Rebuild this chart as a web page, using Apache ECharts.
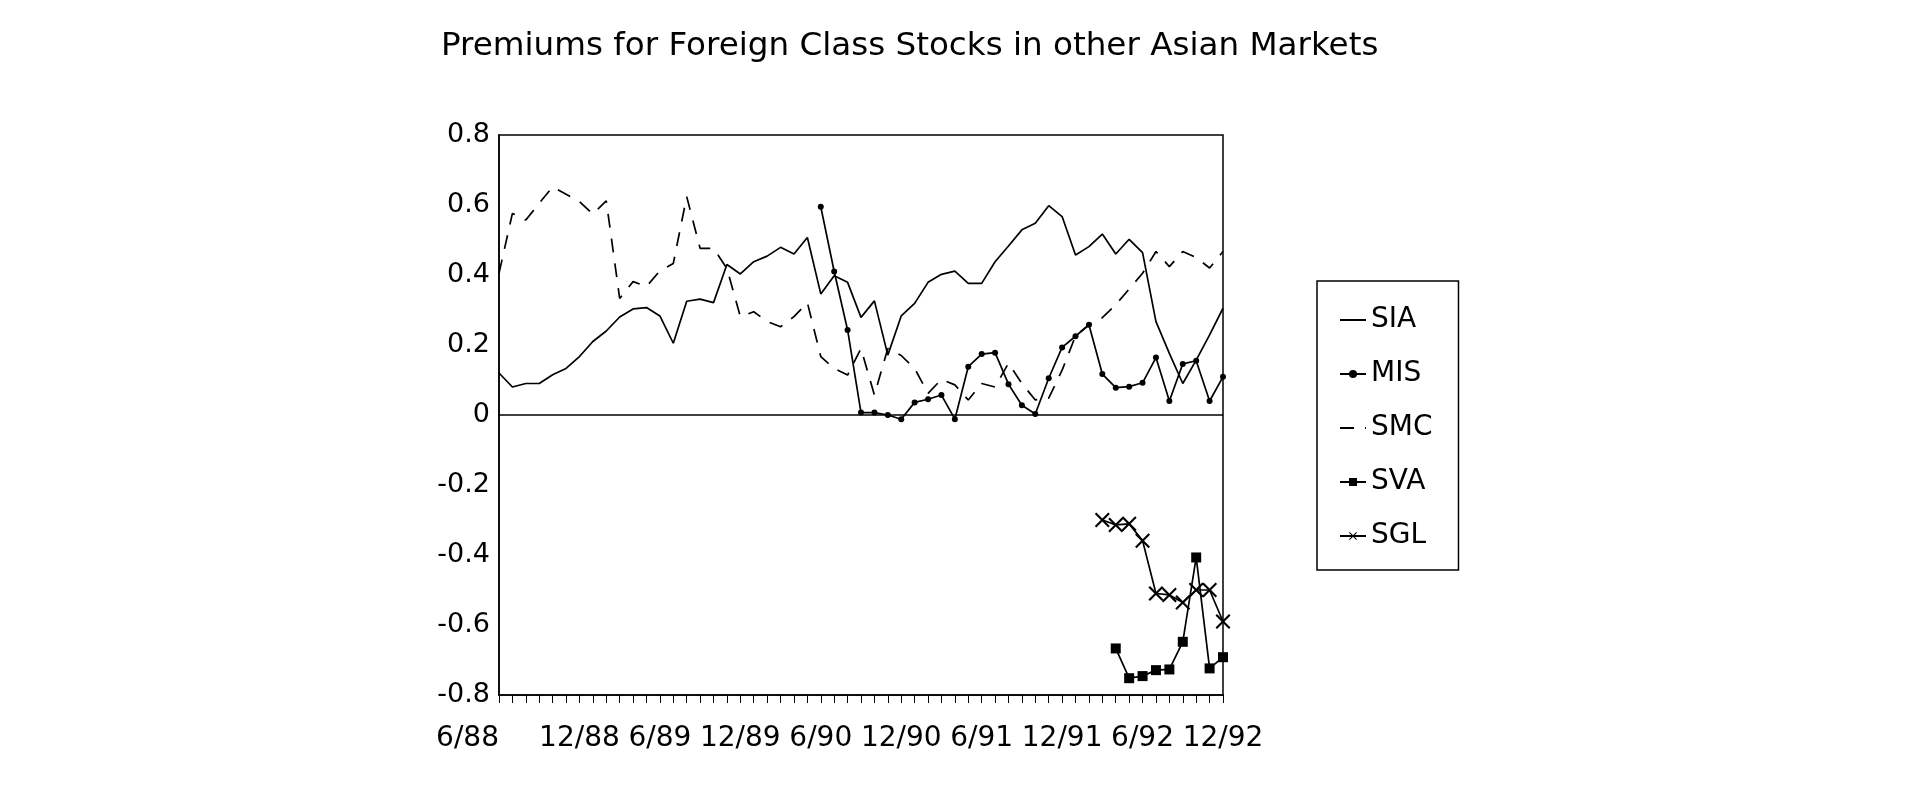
<!DOCTYPE html>
<html>
<head>
<meta charset="utf-8">
<title>Premiums for Foreign Class Stocks in other Asian Markets</title>
<script src="https://cdn.jsdelivr.net/npm/echarts@6/dist/echarts.min.js"></script>
<style>
    html, body { margin: 0; padding: 0; background: #fff; }
    #chart { width: 1921px; height: 792px; }
</style>
</head>
<body>
<div id="chart"></div>
<script>
// months 6/88 .. 12/92
var months = [
    '6/88', '7/88', '8/88', '9/88', '10/88', '11/88', '12/88',
    '1/89', '2/89', '3/89', '4/89', '5/89', '6/89', '7/89', '8/89', '9/89', '10/89', '11/89', '12/89',
    '1/90', '2/90', '3/90', '4/90', '5/90', '6/90', '7/90', '8/90', '9/90', '10/90', '11/90', '12/90',
    '1/91', '2/91', '3/91', '4/91', '5/91', '6/91', '7/91', '8/91', '9/91', '10/91', '11/91', '12/91',
    '1/92', '2/92', '3/92', '4/92', '5/92', '6/92', '7/92', '8/92', '9/92', '10/92', '11/92', '12/92'
];

var sia = [
    0.12, 0.08, 0.09, 0.09, 0.115, 0.133, 0.167,
    0.21, 0.24, 0.28, 0.303, 0.307, 0.283, 0.205, 0.325, 0.331, 0.321, 0.43, 0.403,
    0.438, 0.454, 0.479, 0.46, 0.507, 0.346, 0.398, 0.379, 0.279, 0.326, 0.171, 0.283,
    0.319, 0.379, 0.402, 0.411, 0.376, 0.376, 0.438, 0.483, 0.529, 0.548, 0.598, 0.567,
    0.457, 0.481, 0.517, 0.46, 0.502, 0.464, 0.267, 0.176, 0.09, 0.157, 0.229, 0.305
];

var mis = [
    null, null, null, null, null, null, null,
    null, null, null, null, null, null, null, null, null, null, null, null,
    null, null, null, null, null, 0.595, 0.41, 0.243, 0.007, 0.007, 0.0, -0.012,
    0.036, 0.045, 0.057, -0.012, 0.138, 0.174, 0.178, 0.088, 0.028, 0.003, 0.105, 0.193,
    0.225, 0.258, 0.117, 0.078, 0.081, 0.092, 0.164, 0.04, 0.146, 0.155, 0.04, 0.109
];

var smc = [
    0.405, 0.576, 0.557, 0.605, 0.652, 0.631, 0.61,
    0.574, 0.612, 0.333, 0.381, 0.367, 0.412, 0.433, 0.624, 0.476, 0.476, 0.419, 0.281,
    0.295, 0.267, 0.252, 0.281, 0.321, 0.167, 0.133, 0.114, 0.19, 0.057, 0.19, 0.17,
    0.133, 0.062, 0.102, 0.086, 0.043, 0.09, 0.08, 0.148, 0.09, 0.043, 0.048, 0.128,
    0.226, 0.257, 0.278, 0.315, 0.36, 0.405, 0.467, 0.424, 0.467, 0.45, 0.42, 0.467
];

var sva = [
    null, null, null, null, null, null, null,
    null, null, null, null, null, null, null, null, null, null, null, null,
    null, null, null, null, null, null, null, null, null, null, null, null,
    null, null, null, null, null, null, null, null, null, null, null, null,
    null, null, null, -0.667, -0.752, -0.746, -0.729, -0.727, -0.648, -0.407, -0.724, -0.692
];

var sgl = [
    null, null, null, null, null, null, null,
    null, null, null, null, null, null, null, null, null, null, null, null,
    null, null, null, null, null, null, null, null, null, null, null, null,
    null, null, null, null, null, null, null, null, null, null, null, null,
    null, null, -0.30, -0.314, -0.311, -0.359, -0.51, -0.514, -0.536, -0.50, -0.50, -0.59
];

var font = 'DejaVu Sans';
var crossMark = 'path://M0,1L1,0L5,4L9,0L10,1L6,5L10,9L9,10L5,6L1,10L0,9L4,5Z';

var chart = echarts.init(document.getElementById('chart'));

function lineSeries(name, data, extra) {
    var s = {
        name: name,
        type: 'line',
        data: data,
        connectNulls: false,
        animation: false,
        symbol: 'none',
        showAllSymbol: true,
        lineStyle: { color: '#000', width: 1.7 },
        itemStyle: { color: '#000' }
    };
    for (var k in extra) s[k] = extra[k];
    return s;
}

var option = {
    backgroundColor: '#fff',
    title: {
        text: 'Premiums for Foreign Class Stocks in other Asian Markets',
        left: 441,
        top: 30,
        padding: 0,
        textStyle: { fontFamily: font, fontSize: 32.6, fontWeight: 'normal', color: '#000' }
    },
    legend: {
        orient: 'vertical',
        left: 1317,
        top: 281,
        padding: [25, 26, 20, 22],
        itemGap: 26,
        itemWidth: 26,
        itemHeight: 10,
        borderColor: '#000',
        borderWidth: 1.5,
        textStyle: { fontFamily: font, fontSize: 28, color: '#000' },
        data: [
            // plain lines: hide the legend marker
            { name: 'SIA', itemStyle: { opacity: 0 } },
            'MIS',
            { name: 'SMC', itemStyle: { opacity: 0 } },
            'SVA',
            'SGL'
        ]
    },
    grid: {
        left: 499,
        right: 698,
        top: 135,
        bottom: 97,
        show: true,
        borderColor: '#000',
        borderWidth: 1.5
    },
    xAxis: {
        type: 'category',
        data: months,
        boundaryGap: false,
        axisLine: { onZero: false, lineStyle: { color: '#000', width: 1.5 } },
        axisTick: { interval: 0, length: 8, lineStyle: { color: '#000' } },
        axisLabel: {
            interval: 5,
            margin: 30,
            alignMinLabel: 'right',
            fontFamily: font,
            fontSize: 28,
            color: '#000'
        },
        splitLine: { show: false }
    },
    yAxis: {
        type: 'value',
        min: -0.8,
        max: 0.8,
        interval: 0.2,
        axisLine: { show: true, lineStyle: { color: '#000', width: 1.5 } },
        axisTick: { show: false },
        axisLabel: { margin: 9, fontFamily: font, fontSize: 27, color: '#000' },
        splitLine: { show: false }
    },
    series: [
        lineSeries('SIA', sia, {
            markLine: {
                silent: true,
                symbol: 'none',
                label: { show: false },
                lineStyle: { color: '#000', type: 'solid', width: 1.5 },
                data: [{ yAxis: 0 }]
            }
        }),
        lineSeries('MIS', mis, { symbol: 'circle', symbolSize: 6 }),
        lineSeries('SMC', smc, { lineStyle: { color: '#000', width: 1.7, type: [14, 11] } }),
        lineSeries('SVA', sva, { symbol: 'rect', symbolSize: 10 }),
        lineSeries('SGL', sgl, { symbol: crossMark, symbolSize: 15 })
    ]
};

chart.setOption(option);
</script>
</body>
</html>
